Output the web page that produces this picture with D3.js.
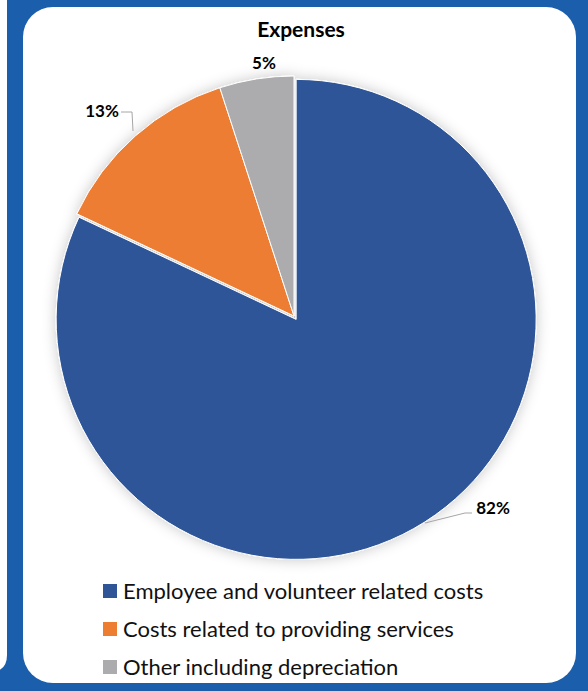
<!DOCTYPE html>
<html>
<head>
<meta charset="utf-8">
<script src="https://cdn.jsdelivr.net/npm/d3@7"></script>
<style>
  body { margin: 0; background: #1b5eab; }
  svg { display: block; }
</style>
</head>
<body>
<div id="chart"></div>
<script>
// chart data
var categories = ["Employee and volunteer related costs", "Costs related to providing services", "Other including depreciation"];
var values = [82, 13, 5];
var colors = ["#2f5597", "#ed7d31", "#acacae"];

var svgWidth = 588;
var svgHeight = 691;

var svg = d3.select("#chart")
    .append("svg")
    .attr("width", svgWidth)
    .attr("height", svgHeight);

// blue frame and white panels
svg.append("rect").attr("width", svgWidth).attr("height", svgHeight).attr("fill", "#1b5eab");
svg.append("path")
    .attr("d", "M0,0 L7,0 L7,655 Q7,672 -10,672 L0,672 Z")
    .attr("fill", "#ffffff");
svg.append("rect")
    .attr("x", 23).attr("y", 7)
    .attr("width", 553).attr("height", 676)
    .attr("rx", 30).attr("ry", 30)
    .attr("fill", "#ffffff");

var defs = svg.append("defs");
var shadow = defs.append("filter").attr("id", "shadow")
    .attr("x", "-20%").attr("y", "-20%").attr("width", "140%").attr("height", "140%");
shadow.append("feDropShadow")
    .attr("dx", 0).attr("dy", 0)
    .attr("stdDeviation", 7)
    .attr("flood-color", "#000")
    .attr("flood-opacity", 0.22);

// title
svg.append("text")
    .attr("x", 301).attr("y", 37)
    .attr("text-anchor", "middle")
    .style("font-family", "Lato, 'Open Sans', sans-serif")
    .style("font-weight", "bold")
    .style("font-size", "21px")
    .attr("fill", "#000")
    .text("Expenses");

// pie
var cx = 294, cy = 316, radius = 240;
var pie = d3.pie().sort(null).value(d => d);
var arc = d3.arc().innerRadius(0).outerRadius(radius);
var arcs = pie(values);

var pieGroup = svg.append("g")
    .attr("transform", `translate(${cx}, ${cy})`)
    .attr("filter", "url(#shadow)");

pieGroup.selectAll("path")
    .data(arcs)
    .enter()
    .append("path")
    .attr("transform", function(d, i) {
        if (i != 0) return null;
        var mid = (d.startAngle + d.endAngle) / 2;
        return `translate(${Math.sin(mid) * 4}, ${-Math.cos(mid) * 4})`;
    })
    .attr("d", arc)
    .attr("fill", (d, i) => colors[i])
    .attr("stroke", "#ffffff")
    .attr("stroke-width", 1);

// data labels with leader lines
var labelPos = [
    { x: 493, y: 514, line: [[425, 523], [465, 513], [472, 513]] },
    { x: 102, y: 117, line: [[121, 112], [132, 112], [133, 131]] },
    { x: 264, y: 69, line: null }
];

svg.append("g").selectAll("polyline")
    .data(labelPos.filter(d => d.line))
    .enter()
    .append("polyline")
    .attr("points", d => d.line.map(p => p.join(",")).join(" "))
    .attr("fill", "none")
    .attr("stroke", "#a6a6a6")
    .attr("stroke-width", 1);

svg.append("g").selectAll("text")
    .data(arcs)
    .enter()
    .append("text")
    .attr("x", (d, i) => labelPos[i].x)
    .attr("y", (d, i) => labelPos[i].y)
    .attr("text-anchor", "middle")
    .style("font-family", "Lato, 'Open Sans', sans-serif")
    .style("font-weight", "bold")
    .style("font-size", "17px")
    .attr("fill", "#000")
    .text(d => d.data + "%");

// legend
var legend = svg.append("g").selectAll("g")
    .data(categories)
    .enter()
    .append("g")
    .attr("transform", (d, i) => `translate(103, ${584 + i * 38})`);

legend.append("rect")
    .attr("width", 14).attr("height", 14)
    .attr("fill", (d, i) => colors[i]);

legend.append("text")
    .attr("x", 20).attr("y", 15)
    .style("font-family", "Lato, 'Open Sans', sans-serif")
    .style("font-size", "22px")
    .attr("fill", "#111")
    .text(d => d);
</script>
</body>
</html>
